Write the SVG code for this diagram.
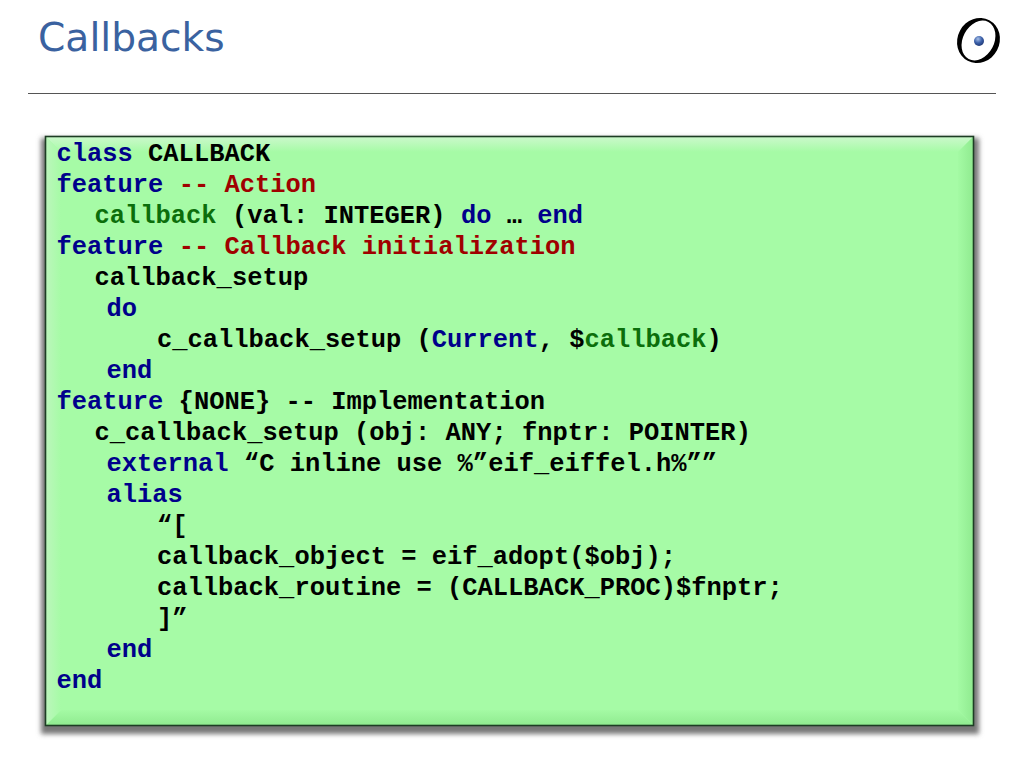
<svg xmlns="http://www.w3.org/2000/svg" width="1024" height="768" viewBox="0 0 1024 768">
<style>
text{font-family:"Liberation Mono","Courier New",monospace;font-size:25.45px;font-weight:bold;fill:#000;white-space:pre}
.k{fill:#00008b}.c{fill:#a00000}.g{fill:#0b6e0b}
.t{font-family:"DejaVu Sans",Verdana,sans-serif;font-size:39.2px;font-weight:normal;fill:#3a62a0}
</style>
<defs>
<filter id="blur" x="-5%" y="-5%" width="110%" height="110%"><feGaussianBlur stdDeviation="2.5"/></filter>
<radialGradient id="ball" cx="0.4" cy="0.3" r="0.8"><stop offset="0" stop-color="#a8c0e8"/><stop offset="0.5" stop-color="#3a5fa8"/><stop offset="1" stop-color="#1a2f68"/></radialGradient>
<linearGradient id="top" x1="0" y1="0" x2="0" y2="1"><stop offset="0" stop-color="#cdf8cd"/><stop offset="1" stop-color="#a6fba6"/></linearGradient>
<linearGradient id="bot" x1="0" y1="0" x2="0" y2="1"><stop offset="0" stop-color="#a4faa4"/><stop offset="1" stop-color="#8fea8f"/></linearGradient>
<linearGradient id="lft" x1="0" y1="0" x2="1" y2="0"><stop offset="0" stop-color="#bdf6bd"/><stop offset="1" stop-color="#a6fba6"/></linearGradient>
<linearGradient id="rgt" x1="0" y1="0" x2="1" y2="0"><stop offset="0" stop-color="#a4faa4"/><stop offset="1" stop-color="#8fea8f"/></linearGradient>
</defs>
<text class="t" x="38" y="50.5">Callbacks</text>
<g id="logo">
<ellipse cx="978.5" cy="40.5" rx="21" ry="23" transform="rotate(28 978.5 40.5)" fill="#000"/>
<ellipse cx="978.5" cy="40.5" rx="15.6" ry="21" transform="rotate(28 978.5 40.5)" fill="#fff"/>
<circle cx="979" cy="41" r="5" fill="url(#ball)"/>
</g>
<line id="rule" x1="28" y1="93.5" x2="996" y2="93.5" stroke="#555" stroke-width="1.2"/>
<g id="box">
<rect x="41" y="138" width="938" height="596" fill="#777" filter="url(#blur)"/>
<rect x="45" y="136" width="929" height="590" fill="#a6fba6"/>
<polygon points="45,136 974,136 958,152 61,152" fill="url(#top)"/>
<polygon points="45,726 974,726 958,710 61,710" fill="url(#bot)"/>
<polygon points="45,136 61,152 61,710 45,726" fill="url(#lft)"/>
<polygon points="974,136 958,152 958,710 974,726" fill="url(#rgt)"/>
<rect x="45.5" y="136.5" width="928" height="589" fill="none" stroke="#1d3d24" stroke-width="1.6"/>
</g>
<g id="code">
<text x="56.5" y="161"><tspan class="k">class</tspan> CALLBACK</text>
<text x="56.5" y="192"><tspan class="k">feature</tspan> <tspan class="c">-- Action</tspan></text>
<text x="94.5" y="223"><tspan class="g">callback</tspan> (val: INTEGER) <tspan class="k">do</tspan> … <tspan class="k">end</tspan></text>
<text x="56.5" y="254"><tspan class="k">feature</tspan> <tspan class="c">-- Callback initialization</tspan></text>
<text x="94.5" y="285">callback_setup</text>
<text x="106.5" y="316" class="k">do</text>
<text x="157" y="347">c_callback_setup (<tspan class="k">Current</tspan>, $<tspan class="g">callback</tspan>)</text>
<text x="106.5" y="378" class="k">end</text>
<text x="56.5" y="409"><tspan class="k">feature</tspan> {NONE} -- Implementation</text>
<text x="94.5" y="440">c_callback_setup (obj: ANY; fnptr: POINTER)</text>
<text x="106.5" y="471"><tspan class="k">external</tspan> “C inline use %”eif_eiffel.h%””</text>
<text x="106.5" y="502" class="k">alias</text>
<text x="157" y="533">“[</text>
<text x="157" y="564">callback_object = eif_adopt($obj);</text>
<text x="157" y="595">callback_routine = (CALLBACK_PROC)$fnptr;</text>
<text x="157" y="626">]”</text>
<text x="106.5" y="657" class="k">end</text>
<text x="56.5" y="688" class="k">end</text>
</g>
</svg>
